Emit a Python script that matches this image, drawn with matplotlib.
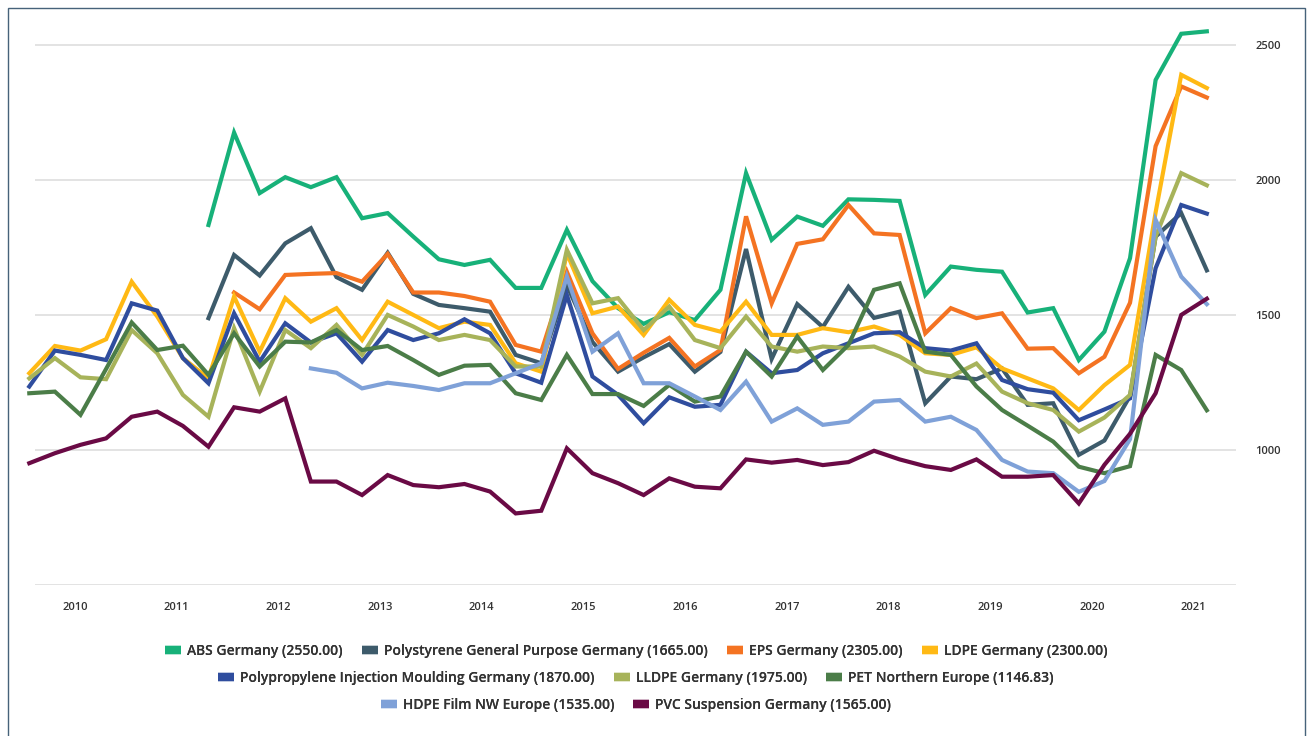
import numpy as np
import matplotlib.pyplot as plt
from matplotlib.lines import Line2D
from matplotlib.patches import Rectangle

plt.rcParams['font.family'] = ['Open Sans', 'DejaVu Sans']

# quarterly observations, mid-2009 .. early 2021
n_points = 47
years = ['2010', '2011', '2012', '2013', '2014', '2015', '2016',
         '2017', '2018', '2019', '2020', '2021']

nan = np.nan
abs_de = [nan] * 7 + [1833, 2175, 1951, 2010, 1973, 2010, 1858, 1877, 1790, 1706,
                      1685, 1704, 1600, 1600, 1815, 1625, 1525, 1467, 1510, 1481,
                      1593, 2025, 1778, 1864, 1830, 1928, 1926, 1922, 1574, 1679,
                      1667, 1660, 1509, 1525, 1333, 1438, 1710, 2370, 2541, 2550]
ps_gp = [nan] * 7 + [1488, 1722, 1646, 1765, 1821, 1640, 1593, 1730, 1578, 1537,
                     1525, 1512, 1352, 1321, 1610, 1400, 1290, 1343, 1392, 1290,
                     1363, 1744, 1337, 1540, 1455, 1604, 1489, 1512, 1173, 1272,
                     1262, 1302, 1167, 1173, 982, 1035, 1200, 1790, 1877, 1665]
eps_de = [nan] * 8 + [1583, 1521, 1648, 1652, 1655, 1623, 1726, 1583, 1583,
                      1570, 1549, 1389, 1364, 1660, 1432, 1300, 1360, 1415, 1309,
                      1370, 1865, 1543, 1763, 1780, 1907, 1802, 1796, 1432, 1525,
                      1488, 1506, 1375, 1377, 1284, 1345, 1545, 2125, 2346, 2305]
ldpe_de = [1284, 1385, 1368, 1410, 1623, 1494, 1340, 1265, 1568, 1364,
           1562, 1475, 1525, 1407, 1549, 1500, 1451, 1475, 1463, 1321,
           1290, 1728, 1506, 1531, 1426, 1556, 1463, 1438, 1549, 1426,
           1426, 1451, 1436, 1457, 1426, 1358, 1352, 1380, 1302, 1265,
           1228, 1148, 1240, 1315, 1880, 2389, 2340]
pp_de = [1235, 1368, 1352, 1333, 1543, 1516, 1340, 1247, 1506, 1327,
         1469, 1398, 1432, 1327, 1444, 1407, 1432, 1484, 1432, 1284,
         1249, 1574, 1272, 1204, 1099, 1195, 1160, 1167, 1364, 1284,
         1296, 1358, 1395, 1432, 1436, 1377, 1368, 1395, 1259, 1225,
         1212, 1110, 1150, 1191, 1673, 1907, 1875]
lldpe_de = [1265, 1340, 1269, 1262, 1444, 1358, 1204, 1123, 1451, 1216,
            1444, 1377, 1463, 1352, 1500, 1457, 1407, 1426, 1407, 1309,
            1309, 1741, 1543, 1562, 1444, 1531, 1407, 1377, 1494, 1383,
            1364, 1383, 1377, 1383, 1346, 1290, 1272, 1320, 1216, 1173,
            1148, 1068, 1120, 1204, 1790, 2025, 1980]
pet_ne = [1210, 1216, 1130, 1300, 1472, 1370, 1386, 1278, 1432, 1309,
          1401, 1398, 1444, 1370, 1385, 1333, 1278, 1312, 1315, 1210,
          1185, 1352, 1207, 1207, 1163, 1241, 1179, 1198, 1364, 1272,
          1420, 1296, 1389, 1593, 1617, 1364, 1352, 1235, 1148, 1090,
          1031, 938, 914, 940, 1352, 1296, 1147]
hdpe_nwe = [nan] * 11 + [1302, 1286, 1228, 1249, 1237, 1222, 1247, 1247, 1284,
                         1321, 1642, 1364, 1432, 1247, 1247, 1198, 1148, 1253,
                         1105, 1154, 1093, 1105, 1179, 1185, 1105, 1123, 1074,
                         963, 920, 914, 845, 885, 1040, 1852, 1642, 1540]
pvc_de = [951, 988, 1019, 1043, 1123, 1142, 1089, 1012, 1158, 1142,
          1191, 883, 883, 833, 907, 870, 862, 874, 846, 765,
          775, 1006, 914, 877, 833, 895, 864, 858, 965, 953,
          963, 944, 955, 997, 965, 940, 926, 965, 901, 901,
          907, 802, 945, 1060, 1210, 1500, 1560]

series = [
    ('ABS Germany (2550.00)', abs_de, '#17b179'),
    ('Polystyrene General Purpose Germany (1665.00)', ps_gp, '#3d5b6b'),
    ('EPS Germany (2305.00)', eps_de, '#f47322'),
    ('LDPE Germany (2300.00)', ldpe_de, '#ffb914'),
    ('Polypropylene Injection Moulding Germany (1870.00)', pp_de, '#2f4d9e'),
    ('LLDPE Germany (1975.00)', lldpe_de, '#a7b35a'),
    ('PET Northern Europe (1146.83)', pet_ne, '#4b7d48'),
    ('HDPE Film NW Europe (1535.00)', hdpe_nwe, '#7fa1d8'),
    ('PVC Suspension Germany (1565.00)', pvc_de, '#6a0a45'),
]

W, H = 1314, 736
fig = plt.figure(figsize=(W / 100, H / 100), dpi=100)
ax = fig.add_axes([35 / W, 1 - 585 / H, (1236 - 35) / W, (585 - 20) / H])

x = np.arange(n_points)
for name, vals, col in series:
    ax.plot(x, np.array(vals, dtype=float), color=col, lw=3.0,
            solid_joinstyle='miter', clip_on=False, label=name)

ax.set_xlim(0.223, 47.14)
ax.set_ylim(500, 2592)
ax.set_yticks([1000, 1500, 2000, 2500])
ax.yaxis.tick_right()
for yv in [500, 1000, 1500, 2000, 2500]:
    ax.axhline(yv, color='#e0e0e0', lw=1.3, zorder=0)

ax.set_xticks(1.785 + 3.973 * np.arange(len(years)))
ax.set_xticklabels(years)
ax.tick_params(axis='both', length=0, labelsize=8, labelcolor='#333333')
ax.tick_params(axis='x', pad=12)
ax.tick_params(axis='y', pad=14)
for lab in ax.get_xticklabels() + ax.get_yticklabels():
    lab.set_fontweight('semibold')
for sp in ax.spines.values():
    sp.set_visible(False)

# outer frame
fig.patches.append(Rectangle((8 / W, -0.01), (1305 - 8) / W, 1 - 8 / H + 0.01,
                             transform=fig.transFigure, fill=False,
                             edgecolor='#46627a', lw=1.0))

# legend: three centred rows
rows = [series[0:4], series[4:7], series[7:9]]
row_y = [651, 678, 705]
for items, yy in zip(rows, row_y):
    handles = [Line2D([0], [0], color=c, lw=6, solid_capstyle='butt') for _, _, c in items]
    labels = [n for n, _, _ in items]
    leg = fig.legend(handles, labels, loc='center', bbox_to_anchor=(636 / W, 1 - yy / H),
                     ncol=len(items), frameon=False, handlelength=1.15,
                     handletextpad=0.43, columnspacing=1.4,
                     prop={'size': 10, 'weight': 'semibold'})
    for t in leg.get_texts():
        t.set_color('#333333')
    fig.add_artist(leg)

fig.savefig('out.png', dpi=100, facecolor='white')
